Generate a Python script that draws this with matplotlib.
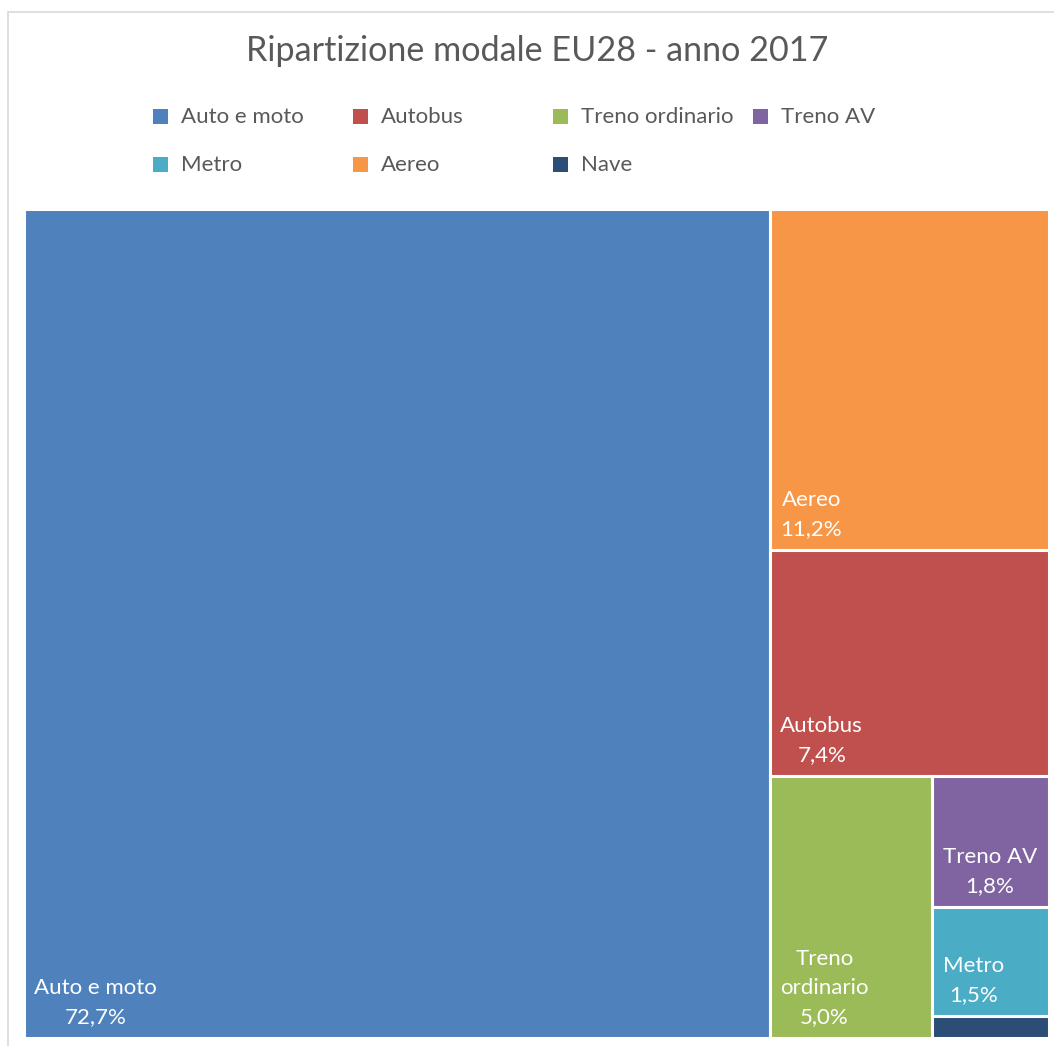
import matplotlib.pyplot as plt
from matplotlib.patches import Rectangle

plt.rcParams['font.family'] = ['Lato', 'DejaVu Sans']

# Ripartizione modale EU28, 2017 (% passeggeri-km)
modes = ["Auto e moto", "Aereo", "Autobus", "Treno ordinario", "Treno AV", "Metro", "Nave"]
shares = [72.7, 11.2, 7.4, 5.0, 1.8, 1.5, 0.3]
colors = ["#4F81BD", "#F79646", "#C0504D", "#9BBB59", "#8064A2", "#4BACC6", "#2C4D75"]
legend_order = ["Auto e moto", "Autobus", "Treno ordinario", "Treno AV", "Metro", "Aereo", "Nave"]

TEXT_GREY = "#595959"
FS = 16


def worst(row, side):
    s = sum(row)
    return max(max(side * side * r / (s * s), s * s / (side * side * r)) for r in row)


def squarify(areas, x, y, w, h):
    # squarified treemap, y grows downward
    rects = []
    areas = list(areas)
    while areas:
        side = min(w, h)
        row = [areas[0]]
        i = 1
        while i < len(areas) and worst(row + [areas[i]], side) <= worst(row, side):
            row.append(areas[i])
            i += 1
        areas = areas[i:]
        s = sum(row)
        if w >= h:
            cw = s / h
            yy = y
            for a in row:
                rects.append((x, yy, cw, a / cw))
                yy += a / cw
            x += cw
            w -= cw
        else:
            rh = s / w
            xx = x
            for a in row:
                rects.append((xx, y, a / rh, rh))
                xx += a / rh
            y += rh
            h -= rh
    return rects


fig = plt.figure(figsize=(10.54, 10.46), dpi=100)
fw, fh = 1054, 1046

# chart frame
fig.add_artist(Rectangle((8 / fw, -0.05), 1.2, 1 - 12 / fh + 0.05, transform=fig.transFigure,
                         fill=False, edgecolor="#D9D9D9", linewidth=1.2))

fig.text(537 / fw, 1 - 51 / fh, "Ripartizione modale EU28 - anno 2017",
         ha="center", va="center", fontsize=24.6, color=TEXT_GREY)

# legend, 4 columns filled row by row
col_of = dict(zip(modes, colors))
for i, name in enumerate(legend_order):
    cx = 153 + 200 * (i % 4)
    cy = 116 + 48 * (i // 4)
    fig.add_artist(Rectangle((cx / fw, 1 - (cy + 7.5) / fh), 15 / fw, 15 / fh,
                             transform=fig.transFigure, facecolor=col_of[name],
                             edgecolor="none"))
    fig.text((cx + 28) / fw, 1 - (cy + 1) / fh, name, ha="left", va="center",
             fontsize=FS, color=TEXT_GREY)

ax = fig.add_axes([24 / fw, 8 / fh, 1025 / fw, 829 / fh])
W, H = ax.bbox.width, ax.bbox.height
ax.set_xlim(0, W)
ax.set_ylim(H, 0)
ax.axis("off")

total = sum(shares)
areas = [v / total * W * H for v in shares]
rects = squarify(areas, 0, 0, W, H)

fig.canvas.draw()
renderer = fig.canvas.get_renderer()
pad = 10
for (x, y, w, h), name, val, c in zip(rects, modes, shares, colors):
    ax.add_patch(Rectangle((x, y), w, h, facecolor=c, edgecolor="white", linewidth=2.2))
    label = f"{name}\n{val:.1f}%".replace(".", ",")
    t = ax.annotate(label, xy=(x, y + h), xytext=(7.5, 8), textcoords="offset points",
                    ha="left", va="bottom", multialignment="center",
                    fontsize=FS, color="white", linespacing=1.55)
    bb = t.get_window_extent(renderer)
    if bb.width > w - 2 * pad:
        t.set_text(label.replace(" ", "\n", 1))
        bb = t.get_window_extent(renderer)
    if bb.height > h - pad:
        t.remove()

fig.savefig("out.png", dpi=100)
